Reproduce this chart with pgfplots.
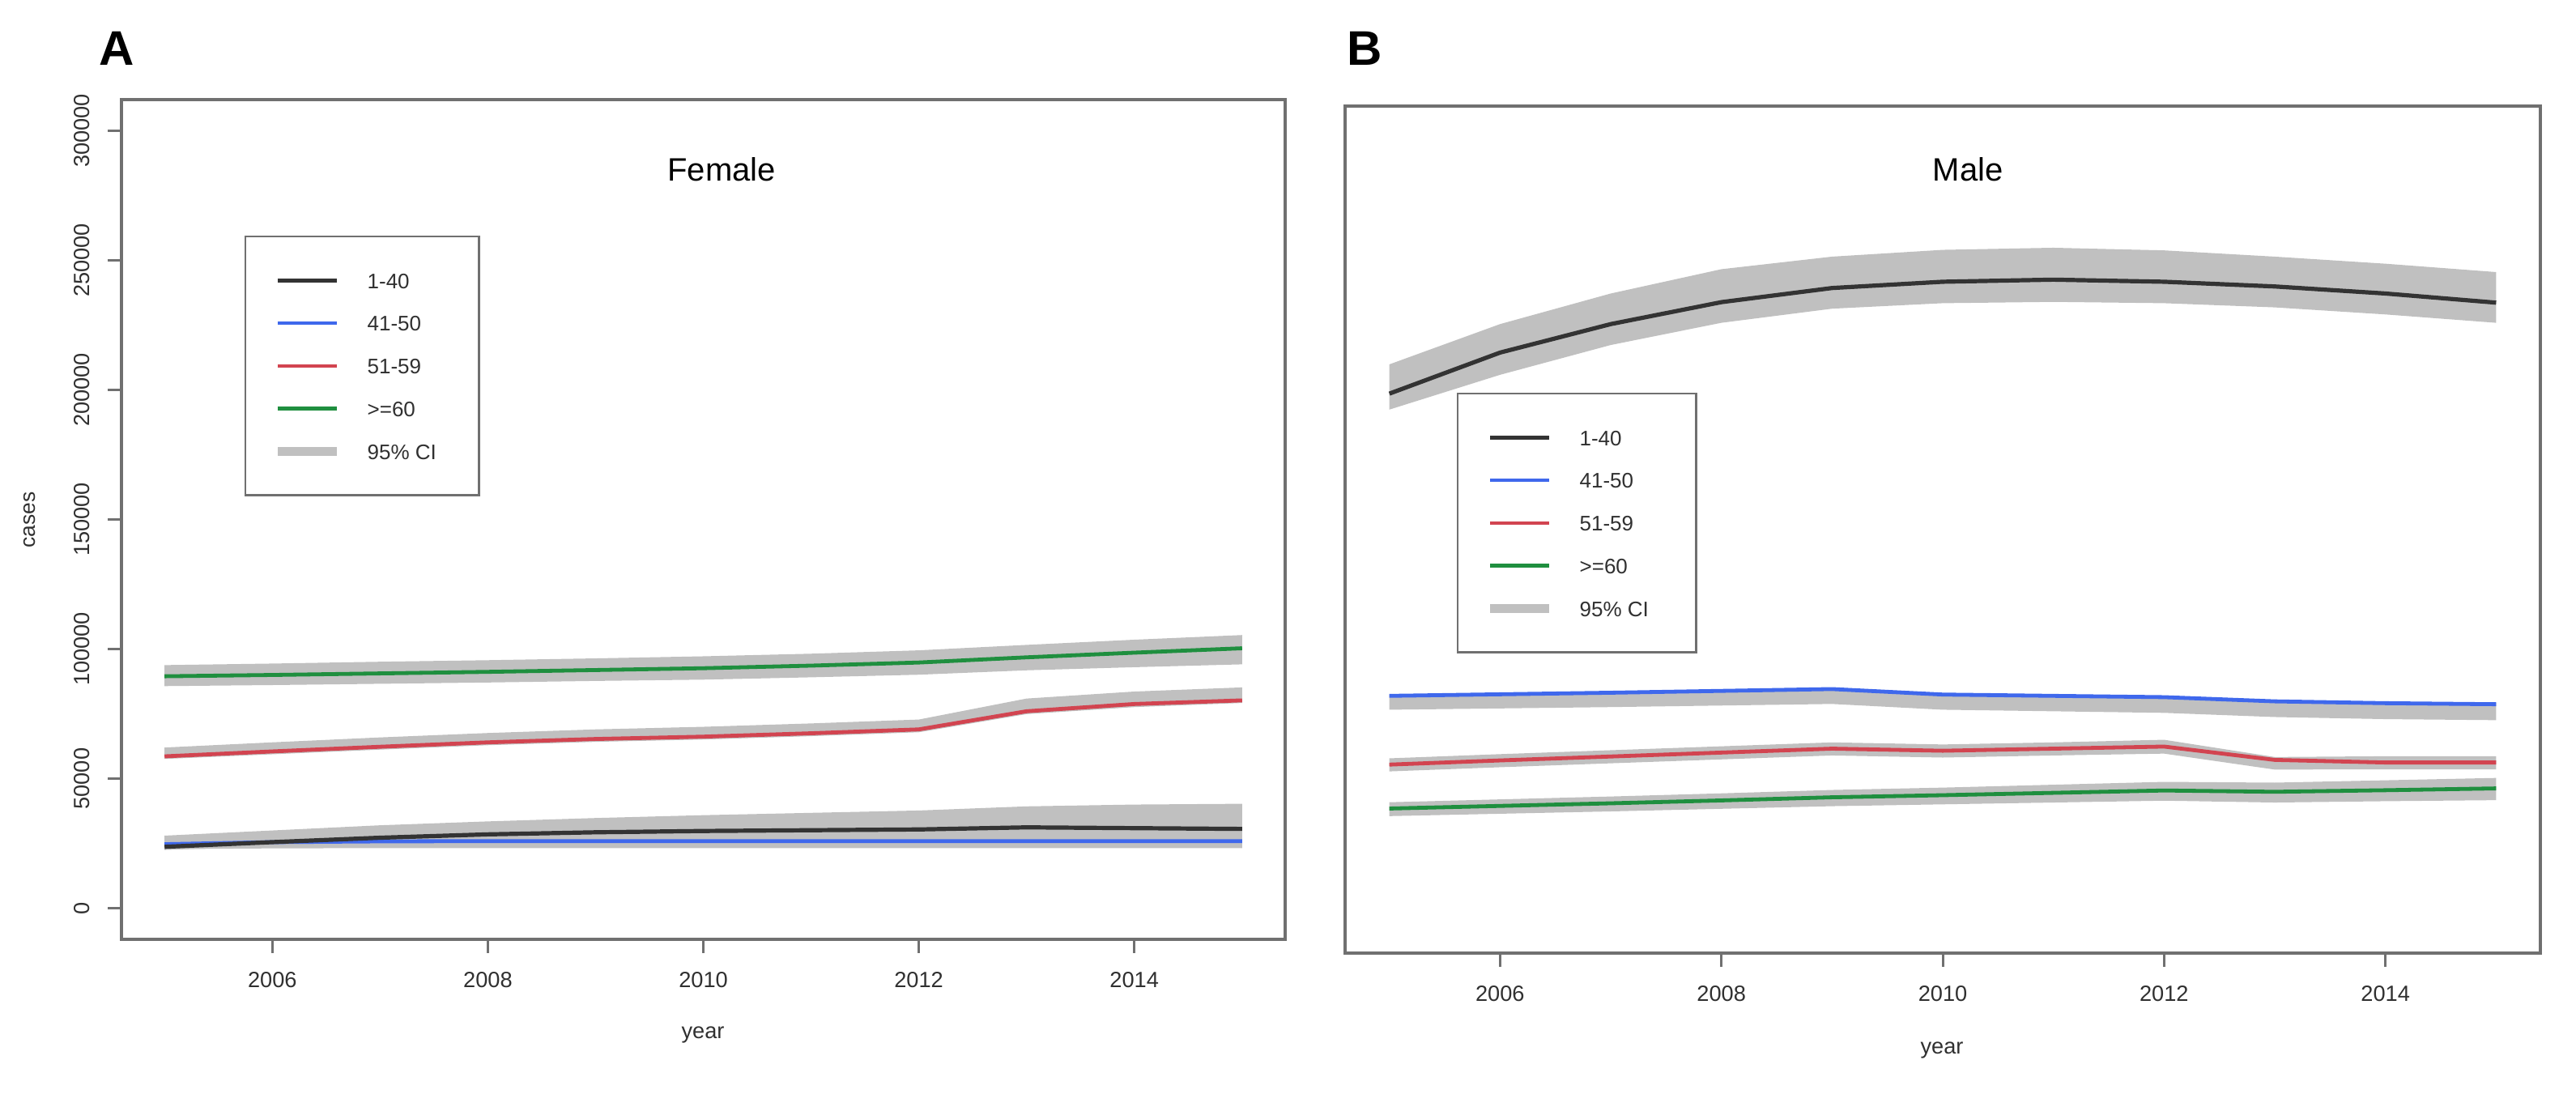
\documentclass[border=0pt]{standalone}
\usepackage{pgfplots}
\pgfplotsset{compat=1.18}
\usepackage{fontspec}
\setmainfont{Liberation Sans}
\definecolor{axisgray}{HTML}{707070}
\definecolor{textgray}{HTML}{303030}
\definecolor{bandgray}{HTML}{C0C0C0}
\definecolor{cblack}{HTML}{333333}
\definecolor{cblue}{HTML}{3F68EC}
\definecolor{cred}{HTML}{D24450}
\definecolor{cgreen}{HTML}{1F8F3F}
\pgfplotsset{
  myax/.style={
    scale only axis,
    xmin=2004.6, xmax=2015.4, ymin=-12000, ymax=312000,
    scaled x ticks=false, scaled y ticks=false,
    axis line style={axisgray, line width=0.8bp},
    tick align=outside, tick pos=left,
    major tick length=4.25bp,
    tick style={axisgray, line width=0.75bp},
    xtick={2006,2008,2010,2012,2014},
    xticklabels={2006,2008,2010,2012,2014},
    xticklabel style={font=\fontsize{6.8bp}{8bp}\selectfont, text=textgray, inner sep=0pt, anchor=north},
    xticklabel shift=5.75bp,
    legend image code/.code={\draw[##1] (0bp,0bp) -- (18.25bp,0bp);},
    legend cell align=left,
  },
  myleg/.style={
    legend style={at={(#1)}, anchor=north west, draw=axisgray, line width=0.6bp,
      inner xsep=8.75bp, inner ysep=11bp, row sep=8.2bp, column sep=8bp,
      font=\fontsize{6.5bp}{7bp}\selectfont, text=textgray,
      nodes={inner sep=0pt, text height=5bp, text depth=0pt}},
  },
}
\begin{document}
\begin{tikzpicture}
\path[use as bounding box] (0,0) rectangle (795.25bp,337.75bp);

% ---------------- Panel A: Female
\begin{axis}[myax, at={(37.5bp,47.75bp)}, anchor=south west,
  width=359.25bp, height=259.25bp,
  ytick={0,50000,100000,150000,200000,250000,300000},
  yticklabels={0,50000,100000,150000,200000,250000,300000},
  yticklabel style={font=\fontsize{6.8bp}{8bp}\selectfont, text=textgray, inner sep=0pt, rotate=90, anchor=south},
  yticklabel shift=5.25bp,
  myleg={0.1058,0.838}]
\addlegendimage{cblack, line width=1.3bp}\addlegendentry{\makebox[25.75bp][l]{1-40}}
\addlegendimage{cblue, line width=1.1bp}\addlegendentry{\makebox[25.75bp][l]{41-50}}
\addlegendimage{cred, line width=1.1bp}\addlegendentry{\makebox[25.75bp][l]{51-59}}
\addlegendimage{cgreen, line width=1.1bp}\addlegendentry{\makebox[25.75bp][l]{>=60}}
\addlegendimage{bandgray, line width=2.6bp}\addlegendentry{\makebox[25.75bp][l]{95\% CI}}
% bands
\addplot[fill=bandgray, draw=none, forget plot] coordinates {
(2005,93800)(2006,94400)(2007,95100)(2008,95700)(2009,96400)(2010,97200)(2011,98200)(2012,99500)(2013,101600)(2014,103600)(2015,105400)
(2015,94100)(2014,93000)(2013,91800)(2012,90100)(2011,89100)(2010,88200)(2009,87700)(2008,87100)(2007,86600)(2006,86100)(2005,85700)};
\addplot[fill=bandgray, draw=none, forget plot] coordinates {
(2005,62000)(2006,64000)(2007,65900)(2008,67600)(2009,69000)(2010,70000)(2011,71300)(2012,72800)(2013,80900)(2014,83600)(2015,85200)
(2015,79200)(2014,77600)(2013,74900)(2012,67900)(2011,66400)(2010,65100)(2009,64200)(2008,62900)(2007,61200)(2006,59400)(2005,57600)};
\addplot[fill=bandgray, draw=none, forget plot] coordinates {
(2005,28000)(2006,30000)(2007,32000)(2008,33500)(2009,34800)(2010,35900)(2011,36800)(2012,37700)(2013,39300)(2014,40000)(2015,40300)
(2015,25800)(2014,25800)(2013,25800)(2012,25700)(2011,25600)(2010,25500)(2009,25300)(2008,25000)(2007,24500)(2006,24000)(2005,22500)};
\addplot[fill=bandgray, draw=none, forget plot] coordinates {
(2005,27000)(2006,27800)(2007,28100)(2008,28200)(2009,28200)(2010,28200)(2011,28200)(2012,28200)(2013,28200)(2014,28200)(2015,28200)
(2015,23200)(2014,23200)(2013,23200)(2012,23200)(2011,23200)(2010,23200)(2009,23200)(2008,23200)(2007,23200)(2006,23100)(2005,22800)};
% lines
\addplot[cblue, line width=1.2bp, forget plot] coordinates {
(2005,24700)(2006,25500)(2007,25800)(2008,25900)(2009,25900)(2010,25900)(2011,25900)(2012,25900)(2013,25900)(2014,25900)(2015,25900)};
\addplot[cblack, line width=1.3bp, forget plot] coordinates {
(2005,23700)(2006,25500)(2007,27200)(2008,28500)(2009,29300)(2010,29800)(2011,30100)(2012,30400)(2013,31200)(2014,30900)(2015,30600)};
\addplot[cred, line width=1.2bp, forget plot] coordinates {
(2005,58600)(2006,60500)(2007,62300)(2008,64000)(2009,65300)(2010,66200)(2011,67500)(2012,69000)(2013,76000)(2014,78800)(2015,80200)};
\addplot[cgreen, line width=1.2bp, forget plot] coordinates {
(2005,89500)(2006,90000)(2007,90600)(2008,91200)(2009,91900)(2010,92600)(2011,93600)(2012,94800)(2013,96800)(2014,98600)(2015,100300)};
\end{axis}

% ---------------- Panel B: Male
\begin{axis}[myax, at={(415.25bp,43.5bp)}, anchor=south west,
  width=369bp, height=261.5bp,
  ytick=\empty,
  myleg={0.0935,0.6616}]
\addlegendimage{cblack, line width=1.3bp}\addlegendentry{\makebox[27.25bp][l]{1-40}}
\addlegendimage{cblue, line width=1.1bp}\addlegendentry{\makebox[27.25bp][l]{41-50}}
\addlegendimage{cred, line width=1.1bp}\addlegendentry{\makebox[27.25bp][l]{51-59}}
\addlegendimage{cgreen, line width=1.1bp}\addlegendentry{\makebox[27.25bp][l]{>=60}}
\addlegendimage{bandgray, line width=2.6bp}\addlegendentry{\makebox[27.25bp][l]{95\% CI}}
% bands
\addplot[fill=bandgray, draw=none, forget plot] coordinates {
(2005,213200)(2006,228600)(2007,240300)(2008,249600)(2009,254400)(2010,257000)(2011,257800)(2012,256800)(2013,254400)(2014,251700)(2015,248500)
(2015,229100)(2014,232300)(2013,235000)(2012,236600)(2011,237100)(2010,236600)(2009,234500)(2008,229100)(2007,220600)(2006,209200)(2005,195900)};
\addplot[fill=bandgray, draw=none, forget plot] coordinates {
(2005,86900)(2006,87500)(2007,88100)(2008,88800)(2009,89500)(2010,87400)(2011,86900)(2012,86400)(2013,84800)(2014,84100)(2015,83700)
(2015,77100)(2014,77500)(2013,78300)(2012,79900)(2011,80500)(2010,81100)(2009,83300)(2008,82700)(2007,82100)(2006,81600)(2005,81100)};
\addplot[fill=bandgray, draw=none, forget plot] coordinates {
(2005,62500)(2006,64100)(2007,65600)(2008,67100)(2009,68600)(2010,67800)(2011,68600)(2012,69600)(2013,63000)(2014,63300)(2015,63300)
(2015,58300)(2014,58300)(2013,58200)(2012,64300)(2011,63600)(2010,62800)(2009,63600)(2008,62100)(2007,60600)(2006,59100)(2005,57500)};
\addplot[fill=bandgray, draw=none, forget plot] coordinates {
(2005,45700)(2006,46800)(2007,47900)(2008,49100)(2009,50400)(2010,51300)(2011,52400)(2012,53500)(2013,53200)(2014,54100)(2015,55000)
(2015,46500)(2014,46100)(2013,45600)(2012,46300)(2011,45600)(2010,44900)(2009,44200)(2008,43200)(2007,42200)(2006,41300)(2005,40400)};
% lines
\addplot[cblack, line width=1.3bp, forget plot] coordinates {
(2005,202000)(2006,217700)(2007,228600)(2008,237000)(2009,242400)(2010,244800)(2011,245600)(2012,244800)(2013,243000)(2014,240300)(2015,236800)};
\addplot[cblue, line width=1.2bp, forget plot] coordinates {
(2005,86400)(2006,87000)(2007,87600)(2008,88300)(2009,89000)(2010,86900)(2011,86400)(2012,85900)(2013,84300)(2014,83600)(2015,83200)};
\addplot[cred, line width=1.2bp, forget plot] coordinates {
(2005,60100)(2006,61700)(2007,63200)(2008,64700)(2009,66200)(2010,65400)(2011,66200)(2012,67000)(2013,61900)(2014,60900)(2015,60900)};
\addplot[cgreen, line width=1.2bp, forget plot] coordinates {
(2005,43300)(2006,44300)(2007,45300)(2008,46400)(2009,47600)(2010,48400)(2011,49300)(2012,50200)(2013,49700)(2014,50300)(2015,51000)};
\end{axis}

% ---------------- titles and labels
\node[font=\fontsize{10bp}{12bp}\selectfont, text=black] at (222.75bp,285.5bp) {Female};
\node[font=\fontsize{10bp}{12bp}\selectfont, text=black] at (607.5bp,285.5bp) {Male};
\node[font=\fontsize{6.8bp}{8bp}\selectfont, text=textgray] at (217bp,18.25bp) {year};
\node[font=\fontsize{6.8bp}{8bp}\selectfont, text=textgray] at (599.5bp,13.5bp) {year};
\node[font=\fontsize{6.6bp}{8bp}\selectfont, text=textgray, rotate=90] at (9.25bp,177.25bp) {cases};
\node[font=\fontsize{15bp}{18bp}\selectfont\bfseries, text=black] at (36bp,322.75bp) {A};
\node[font=\fontsize{15bp}{18bp}\selectfont\bfseries, text=black] at (421.25bp,322.75bp) {B};
\end{tikzpicture}
\end{document}
